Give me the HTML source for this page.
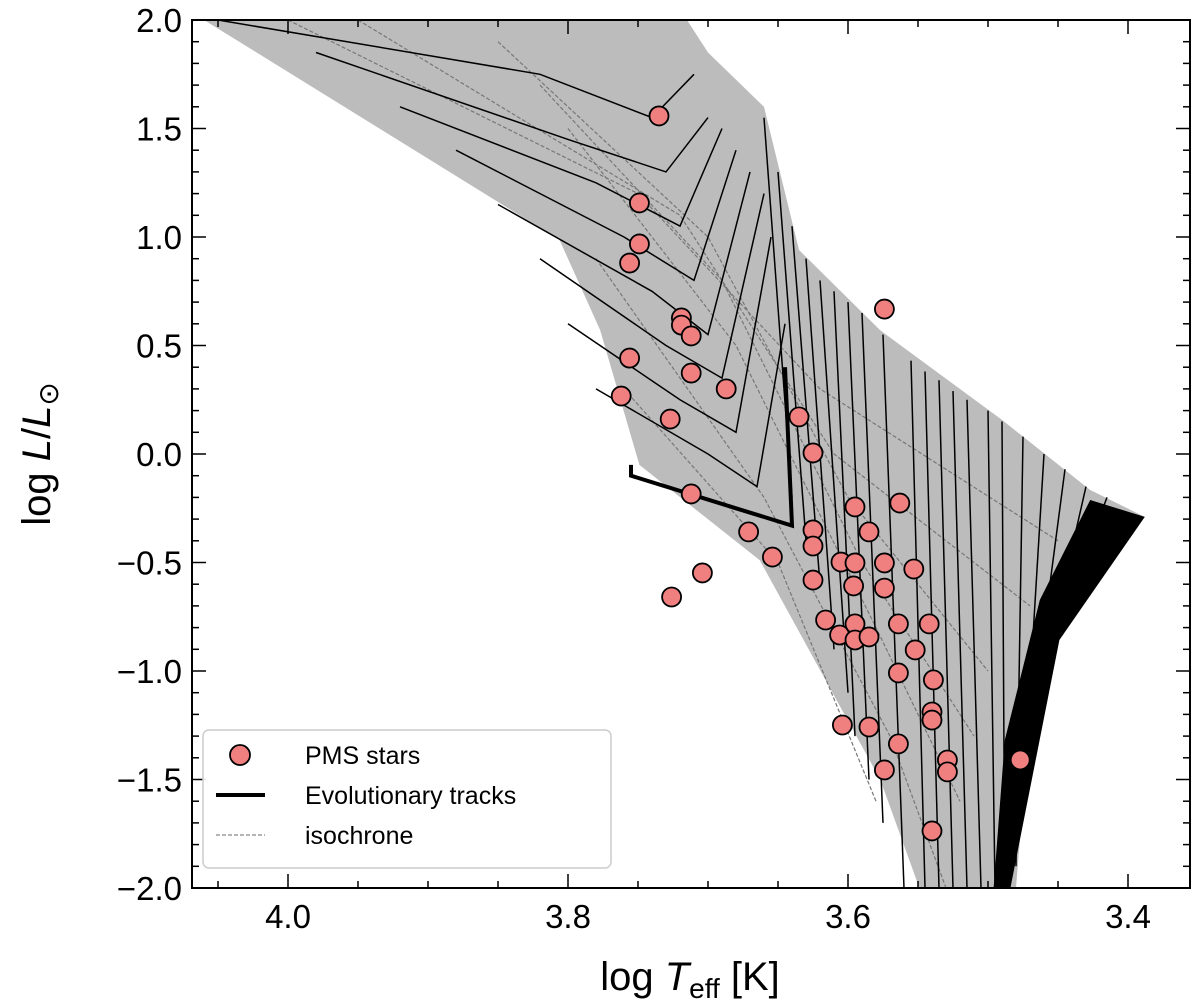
<!DOCTYPE html>
<html><head><meta charset="utf-8"><style>
body{margin:0;background:#fff;}
svg{display:block;font-family:"Liberation Sans","DejaVu Sans",sans-serif;}
</style></head><body>
<svg id="chart" width="1200" height="1008" viewBox="0 0 1200 1008">
<g id="bg"></g>
<g id="pts"></g>
<g id="axes"></g>
<g id="legend">
<rect x="203" y="730" width="408" height="138" rx="6" fill="#fff" fill-opacity="0.9" stroke="#ccc" stroke-width="1.5"/>
<circle cx="240" cy="755" r="10" fill="#f08080" stroke="#000" stroke-width="1.8"/>
<text x="305" y="764" font-size="25">PMS stars</text>
<line x1="216" y1="795" x2="265" y2="795" stroke="#000" stroke-width="4"/>
<text x="305" y="804" font-size="25">Evolutionary tracks</text>
<line x1="216" y1="835" x2="265" y2="835" stroke="#888" stroke-width="1.2" stroke-dasharray="4,2"/>
<text x="305" y="844" font-size="25">isochrone</text>
</g>
</svg>
<script>
const starT=[3.735,3.749,3.749,3.756,3.719,3.719,3.712,3.756,3.712,3.687,3.762,3.727,3.574,3.635,3.625,3.712,3.671,3.704,3.726,3.654,3.625,3.625,3.625,3.595,3.605,3.585,3.595,3.574,3.563,3.553,3.596,3.574,3.616,3.606,3.595,3.595,3.585,3.564,3.542,3.552,3.564,3.539,3.540,3.540,3.529,3.529,3.604,3.585,3.564,3.574,3.540,3.477];
const starL=[1.558,1.157,0.968,0.880,0.627,0.594,0.544,0.442,0.373,0.300,0.267,0.161,0.668,0.171,0.005,-0.184,-0.359,-0.548,-0.659,-0.475,-0.350,-0.424,-0.581,-0.244,-0.498,-0.359,-0.502,-0.502,-0.226,-0.530,-0.608,-0.618,-0.765,-0.834,-0.783,-0.857,-0.843,-0.783,-0.783,-0.903,-1.009,-1.041,-1.189,-1.226,-1.410,-1.465,-1.249,-1.258,-1.336,-1.456,-1.737,-1.410];
const hayashiTracks=[[3.66,1.55,3.64,-0.2],[3.65,1.3,3.63,-0.4],[3.64,1.05,3.62,-0.6],[3.63,0.9,3.61,-0.9],[3.62,0.8,3.60,-1.1],[3.61,0.75,3.595,-1.3],[3.60,0.7,3.585,-1.5],[3.59,0.65,3.575,-1.7],[3.575,0.55,3.56,-2],[3.555,0.43,3.545,-2],[3.545,0.38,3.535,-2],[3.535,0.34,3.525,-2],[3.525,0.29,3.515,-2],[3.515,0.25,3.505,-2],[3.50,0.2,3.495,-2],[3.49,0.15,3.488,-2],[3.475,0.08,3.48,-1.9],[3.46,0,3.475,-1.6],[3.445,-0.07,3.47,-1.3],[3.43,-0.15,3.46,-1.0],[3.415,-0.2,3.45,-0.8]];
const kneeTracks=[
[[4.05,2.0],[3.82,1.75],[3.74,1.55],[3.71,1.75]],
[[3.98,1.85],[3.80,1.45],[3.73,1.3],[3.70,1.55]],
[[3.92,1.6],[3.78,1.25],[3.72,1.05],[3.69,1.5]],
[[3.88,1.4],[3.76,1.0],[3.71,0.8],[3.68,1.4]],
[[3.85,1.15],[3.74,0.75],[3.70,0.55],[3.67,1.3]],
[[3.82,0.9],[3.73,0.5],[3.69,0.35],[3.66,1.2]],
[[3.80,0.6],[3.72,0.25],[3.68,0.1],[3.655,1.0]],
[[3.78,0.3],[3.70,0.0],[3.665,-0.15],[3.645,0.6]],
[[3.755,-0.05],[3.755,-0.1],[3.68,-0.25],[3.64,-0.33],[3.645,0.4]]];
const gridRegion=[[4.06,2],[3.715,2],[3.70,1.85],[3.66,1.6],[3.635,0.94],[3.577,0.57],[3.49,0.157],[3.427,-0.166],[3.388,-0.29],[3.44,-0.6],[3.47,-1.2],[3.48,-2],[3.549,-2],[3.577,-1.5],[3.663,-0.49],[3.749,-0.05],[3.777,0.57],[3.806,0.986]];
const blackBand=[[3.427,-0.212],[3.388,-0.29],[3.449,-0.857],[3.484,-2],[3.496,-2],[3.488,-1.318],[3.463,-0.673]];
const isochrones=[[[4.0,2],[3.75,1.2],[3.62,0.3],[3.45,-0.4]],[[3.95,2],[3.72,1.1],[3.61,0.0],[3.47,-0.7]],[[3.85,1.9],[3.70,1.0],[3.60,-0.2],[3.50,-1.0]],[[3.82,1.7],[3.69,0.8],[3.59,-0.5],[3.51,-1.3]],[[3.80,1.5],[3.68,0.5],[3.58,-0.8],[3.52,-1.6]],[[3.78,0.9],[3.66,-0.2],[3.57,-1.3],[3.53,-2]],[[3.76,0.3],[3.65,-0.5],[3.58,-1.6]]];
const xTicks=[4.0,3.8,3.6,3.4];
const xTickLabels=["4.0","3.8","3.6","3.4"];
const yTicks=[2.0,1.5,1.0,0.5,0.0,-0.5,-1.0,-1.5,-2.0];
const yTickLabels=["2.0","1.5","1.0","0.5","0.0","\u22120.5","\u22121.0","\u22121.5","\u22122.0"];

const L=192,R=1190,T=20,B=888;
const X=t=>288+(4.0-t)*1400;
const Y=l=>454-l*217;
const NS='http://www.w3.org/2000/svg';
function mk(tag,parent,attrs){const e=document.createElementNS(NS,tag);for(const k in attrs)e.setAttribute(k,attrs[k]);parent.appendChild(e);return e;}
const bg=document.getElementById('bg');
const clip=mk('clipPath',document.getElementById('chart'),{id:'pc'});
mk('rect',clip,{x:L,y:T,width:R-L,height:B-T});
bg.setAttribute('clip-path','url(#pc)');
const pstr=a=>a.map(p=>X(p[0]).toFixed(1)+','+Y(p[1]).toFixed(1)).join(' ');
let e=mk('polygon',bg,{points:pstr(gridRegion),fill:'#bcbcbc'});


isochrones.forEach(iso=>{
  const l=mk('polyline',bg,{points:pstr(iso),fill:'none',stroke:'#777','stroke-width':1.2,'stroke-dasharray':'4,2'});
  
  
});
hayashiTracks.forEach(tr=>{
  const l=mk('line',bg,{x1:X(tr[0]),y1:Y(tr[1]),x2:X(tr[2]),y2:Y(tr[3]),stroke:'#000','stroke-width':1.5});
  
  
});
kneeTracks.forEach((tr,i)=>{
  const l=mk('polyline',bg,{points:pstr(tr),fill:'none',stroke:'#000','stroke-width':i==kneeTracks.length-1?4:1.5});
  
  
});
e=mk('polygon',bg,{points:pstr(blackBand),fill:'#000'});



const pts=document.getElementById('pts');
starT.forEach((t,i)=>{
  const c=mk('circle',pts,{cx:X(t),cy:Y(starL[i]),r:9.5,fill:'#f08080',stroke:'#000','stroke-width':1.8});
  
  
});

const ax=document.getElementById('axes');
e=mk('rect',ax,{x:L,y:T,width:R-L,height:B-T,fill:'none',stroke:'#000','stroke-width':2});


for(let k=0;k<=15;k++){const t=4.05-k*0.05;const x=X(t);if(x<L||x>R)continue;
  const major=xTicks.some(v=>Math.abs(v-t)<1e-6);const len=major?14:7;
  mk('line',ax,{x1:x,y1:B,x2:x,y2:B-len,stroke:'#000','stroke-width':1.5});
  mk('line',ax,{x1:x,y1:T,x2:x,y2:T+len,stroke:'#000','stroke-width':1.5});}
for(let k=0;k<=40;k++){const l=-2+k*0.1;const y=Y(l);
  const major=yTicks.some(v=>Math.abs(v-l)<1e-6);const len=major?14:7;
  mk('line',ax,{x1:L,y1:y,x2:L+len,y2:y,stroke:'#000','stroke-width':1.5});
  mk('line',ax,{x1:R,y1:y,x2:R-len,y2:y,stroke:'#000','stroke-width':1.5});}
xTicks.forEach((t,i)=>{const tx=mk('text',ax,{x:X(t),y:928,'font-size':33,'text-anchor':'middle'});tx.textContent=xTickLabels[i];
  
  });
yTicks.forEach((l,i)=>{const tx=mk('text',ax,{x:182,y:Y(l)+12,'font-size':33,'text-anchor':'end'});tx.textContent=yTickLabels[i];
  
  });
let xt=mk('text',ax,{x:690,y:990,'font-size':40,'text-anchor':'middle'});
xt.innerHTML='log <tspan font-style="italic">T</tspan><tspan font-size="28" dy="8">eff</tspan><tspan dy="-8"> [K]</tspan>';


let yt=mk('text',ax,{x:0,y:0,'font-size':40,'text-anchor':'middle',transform:'translate(50,454) rotate(-90)'});
yt.innerHTML='log <tspan font-style="italic">L</tspan>/<tspan font-style="italic">L</tspan><tspan font-size="28" dy="8">\u2299</tspan>';


</script>
</body></html>
